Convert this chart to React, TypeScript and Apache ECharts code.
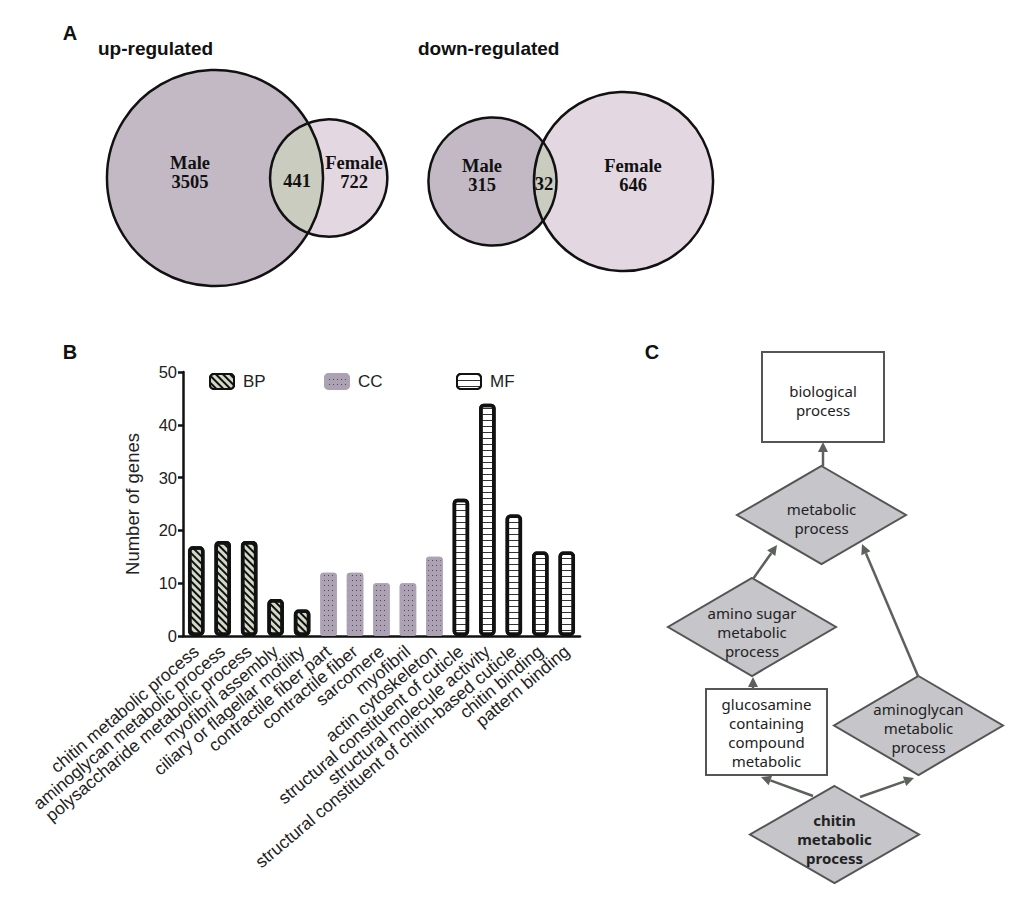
import React, { useEffect, useRef } from 'react';
import * as echarts from 'echarts';

// ---------- Data ----------
const goCategories = [
  'chitin metabolic process',
  'aminoglycan metabolic process',
  'polysaccharide metabolic process',
  'myofibril assembly',
  'ciliary or flagellar motility',
  'contractile fiber part',
  'contractile fiber',
  'sarcomere',
  'myofibril',
  'actin cytoskeleton',
  'structural constituent of cuticle',
  'structural molecule activity',
  'structural constituent of chitin-based cuticle',
  'chitin binding',
  'pattern binding',
];
const bpValues = [17, 18, 18, 7, 5];
const ccValues = [12, 12, 10, 10, 15];
const mfValues = [26, 44, 23, 16, 16];
const yMin = 0;
const yMax = 50;
const yStep = 10;

const vennSets = ['Male', 'Female'];
const upCounts = [3505, 441, 722]; // male only, shared, female only
const downCounts = [315, 32, 646];

// GO graph (panel C)
const goNodes = [
  { id: 'bio', lines: ['biological', 'process'], shape: 'rect', cx: 823, cy: 397, w: 122, h: 90, ty: 400, bold: false },
  { id: 'met', lines: ['metabolic', 'process'], shape: 'diamond', cx: 821.5, cy: 515, w: 169, h: 98, ty: 518, bold: false },
  { id: 'amino', lines: ['amino sugar', 'metabolic', 'process'], shape: 'diamond', cx: 752, cy: 627, w: 168, h: 98, ty: 632, bold: false },
  { id: 'gluc', lines: ['glucosamine', 'containing', 'compound', 'metabolic'], shape: 'rect', cx: 766.5, cy: 732, w: 121, h: 86, ty: 732, bold: false },
  { id: 'amgly', lines: ['aminoglycan', 'metabolic', 'process'], shape: 'diamond', cx: 918.5, cy: 725.5, w: 169, h: 99, ty: 728, bold: false },
  { id: 'chitin', lines: ['chitin', 'metabolic', 'process'], shape: 'diamond', cx: 834.5, cy: 834.5, w: 169, h: 97, ty: 839, bold: true },
];
const goEdges = [
  { from: [823, 466], to: [823, 442] },
  { from: [753, 579], to: [777, 545] },
  { from: [918, 676], to: [862, 544] },
  { from: [753, 689], to: [753, 677] },
  { from: [813, 796], to: [761, 777] },
  { from: [860, 797], to: [914, 778] },
];

// ---------- Layout helpers ----------
const SANS = 'Liberation Sans, Arial, sans-serif';
const SERIF = 'Liberation Serif, Times New Roman, serif';
const GOFONT = 'Noto Sans, Open Sans, sans-serif';

function pad(values: number[], start: number): (number | string)[] {
  return goCategories.map((_, i) => (i >= start && i < start + values.length ? values[i - start] : '-'));
}

function text(x: number, y: number, t: string, opts: any = {}) {
  const align = opts.align || 'center';
  const va = opts.verticalAlign || 'middle';
  return {
    type: 'text',
    x,
    y,
    z: 10,
    style: {
      text: t,
      fill: opts.fill || '#111',
      fontSize: opts.fontSize || 16,
      fontWeight: opts.fontWeight || 'normal',
      fontFamily: opts.fontFamily || SANS,
      lineHeight: opts.lineHeight,
      align,
      textAlign: align,
      verticalAlign: va,
      textVerticalAlign: va,
    },
  };
}

function venn(
  cy: number,
  x1: number,
  x2: number,
  k: number,
  counts: number[],
  textY: number,
  maleX: number,
  sharedX: number,
  femaleX: number
) {
  const r1 = k * Math.sqrt(counts[0] + counts[1]);
  const r2 = k * Math.sqrt(counts[2] + counts[1]);
  const d = x2 - x1;
  const a = (d * d + r1 * r1 - r2 * r2) / (2 * d);
  const h = Math.sqrt(Math.max(0, r1 * r1 - a * a));
  const pts: number[][] = [];
  const t1 = Math.atan2(-h, a);
  const t2 = Math.atan2(h, a);
  const N = 60;
  for (let i = 0; i <= N; i++) {
    const t = t1 + ((t2 - t1) * i) / N;
    pts.push([x1 + r1 * Math.cos(t), cy + r1 * Math.sin(t)]);
  }
  const p2 = Math.atan2(h, a - d);
  const p1 = 2 * Math.PI - p2;
  for (let i = 0; i <= N; i++) {
    const t = p2 + ((p1 - p2) * i) / N;
    pts.push([x2 + r2 * Math.cos(t), cy + r2 * Math.sin(t)]);
  }
  const els: any[] = [
    { type: 'circle', shape: { cx: x1, cy, r: r1 }, style: { fill: '#c2b9c5' } },
    { type: 'circle', shape: { cx: x2, cy, r: r2 }, style: { fill: '#e3d7e1' } },
    { type: 'polygon', shape: { points: pts }, style: { fill: '#c9ccbf' } },
    { type: 'circle', shape: { cx: x1, cy, r: r1 }, style: { fill: 'none', stroke: '#111', lineWidth: 2.5 } },
    { type: 'circle', shape: { cx: x2, cy, r: r2 }, style: { fill: 'none', stroke: '#111', lineWidth: 2.5 } },
  ];
  const f = { fontFamily: SERIF, fontWeight: 'bold', fontSize: 18.5, lineHeight: 19 };
  els.push(text(maleX, textY, vennSets[0] + '\n' + counts[0], f));
  els.push(text(sharedX, textY + 9, String(counts[1]), f));
  els.push(text(femaleX, textY, vennSets[1] + '\n' + counts[2], f));
  return els;
}

function goGraphic() {
  const els: any[] = [];
  const stroke = '#555';
  goNodes.forEach((n) => {
    if (n.shape === 'rect') {
      els.push({
        type: 'rect',
        shape: { x: n.cx - n.w / 2, y: n.cy - n.h / 2, width: n.w, height: n.h },
        style: { fill: '#fff', stroke, lineWidth: 2 },
      });
    } else {
      els.push({
        type: 'polygon',
        shape: {
          points: [
            [n.cx, n.cy - n.h / 2],
            [n.cx + n.w / 2, n.cy],
            [n.cx, n.cy + n.h / 2],
            [n.cx - n.w / 2, n.cy],
          ],
        },
        style: { fill: '#c5c5ca', stroke, lineWidth: 2 },
      });
    }
    els.push(
      text(n.cx, n.ty, n.lines.join('\n'), {
        fontFamily: GOFONT,
        fontSize: 15,
        lineHeight: 19,
        fontWeight: n.bold ? 'bold' : 'normal',
        fill: '#222',
      })
    );
  });
  goEdges.forEach((e) => {
    const [x1, y1] = e.from;
    const [x2, y2] = e.to;
    const len = Math.hypot(x2 - x1, y2 - y1);
    const ux = (x2 - x1) / len;
    const uy = (y2 - y1) / len;
    const hl = 10;
    const hw = 5;
    const bx = x2 - ux * hl;
    const by = y2 - uy * hl;
    els.push({
      type: 'line',
      shape: { x1, y1, x2: bx, y2: by },
      style: { stroke: '#5c615c', lineWidth: 2.5 },
    });
    els.push({
      type: 'polygon',
      shape: {
        points: [
          [x2, y2],
          [bx - uy * hw, by + ux * hw],
          [bx + uy * hw, by - ux * hw],
        ],
      },
      style: { fill: '#5c615c' },
    });
  });
  return els;
}

export default function App() {
  const ref = useRef<HTMLDivElement>(null);
  useEffect(() => {
    if (!ref.current) return;
    const chart = echarts.init(ref.current, undefined, { renderer: 'svg' });
    const legendText = { fontSize: 17, color: '#222', fontFamily: SANS, padding: [0, 0, 0, 4] };
    const bpStyle = {
      color: '#d2dac7',
      borderColor: '#111',
      borderWidth: 3.5,
      borderRadius: 3,
      decal: { symbol: 'rect', symbolSize: 1, color: '#111', dashArrayX: [1, 0], dashArrayY: [2, 3], rotation: Math.PI / 4 },
    };
    const ccStyle = {
      color: '#aca2b4',
      borderColor: '#aca2b4',
      borderWidth: 2,
      borderRadius: 2,
      decal: { symbol: 'rect', symbolSize: 1, color: '#4f4656', dashArrayX: [1, 3], dashArrayY: [1, 4], rotation: 0 },
    };
    const mfStyle = {
      color: '#ffffff',
      borderColor: '#111',
      borderWidth: 3.5,
      borderRadius: 3,
      decal: { symbol: 'rect', symbolSize: 1, color: '#333', dashArrayX: [1, 0], dashArrayY: [1, 5], rotation: 0 },
    };
    const option: any = {
      animation: false,
      backgroundColor: '#fff',
      grid: { left: 183, top: 372, width: 397, height: 264 },
      legend: [
        { data: ['BP'], left: 204, top: 368, itemWidth: 24, itemHeight: 15, icon: 'roundRect', textStyle: legendText },
        { data: ['CC'], left: 319, top: 368, itemWidth: 24, itemHeight: 15, icon: 'roundRect', textStyle: legendText },
        { data: ['MF'], left: 451, top: 368, itemWidth: 24, itemHeight: 15, icon: 'roundRect', textStyle: legendText },
      ],
      xAxis: {
        type: 'category',
        data: goCategories,
        axisLine: { lineStyle: { color: '#111', width: 2.5 } },
        axisTick: { alignWithLabel: true, length: 6, lineStyle: { color: '#111', width: 2.5 } },
        axisLabel: { interval: 0, rotate: 40, fontSize: 17.5, color: '#222', fontFamily: SANS, margin: 13 },
      },
      yAxis: {
        type: 'value',
        min: yMin,
        max: yMax,
        interval: yStep,
        name: 'Number of genes',
        nameLocation: 'middle',
        nameRotate: 90,
        nameGap: 41,
        nameTextStyle: { fontSize: 18.5, color: '#222', fontFamily: SANS },
        axisLine: { show: true, lineStyle: { color: '#111', width: 2.5 } },
        axisTick: { show: true, length: 5, lineStyle: { color: '#111', width: 2.5 } },
        axisLabel: { fontSize: 16.5, color: '#222', fontFamily: SANS, margin: 6 },
        splitLine: { show: false },
      },
      series: [
        { name: 'BP', type: 'bar', data: pad(bpValues, 0), barWidth: 16.5, barGap: '-100%', itemStyle: bpStyle },
        { name: 'CC', type: 'bar', data: pad(ccValues, 5), barWidth: 16.5, barGap: '-100%', itemStyle: ccStyle },
        { name: 'MF', type: 'bar', data: pad(mfValues, 10), barWidth: 16.5, barGap: '-100%', itemStyle: mfStyle },
      ],
      graphic: [
        text(70, 33, 'A', { fontSize: 20, fontWeight: 'bold' }),
        text(70, 352, 'B', { fontSize: 20, fontWeight: 'bold' }),
        text(652, 352, 'C', { fontSize: 20, fontWeight: 'bold' }),
        text(98, 48, 'up-regulated', { fontSize: 19, fontWeight: 'bold', align: 'left' }),
        text(418, 48, 'down-regulated', { fontSize: 19, fontWeight: 'bold', align: 'left' }),
        ...venn(178, 215, 328.7, 1.72, upCounts, 172, 190, 297, 354),
        ...venn(181.5, 492.5, 623.5, 3.44, downCounts, 175, 482, 544, 633),
        ...goGraphic(),
      ],
    };
    chart.setOption(option);
    return () => chart.dispose();
  }, []);
  return (
    <div
      ref={ref}
      style={{ position: 'absolute', left: 0, top: 0, width: 1020, height: 910, background: '#fff' }}
    />
  );
}
